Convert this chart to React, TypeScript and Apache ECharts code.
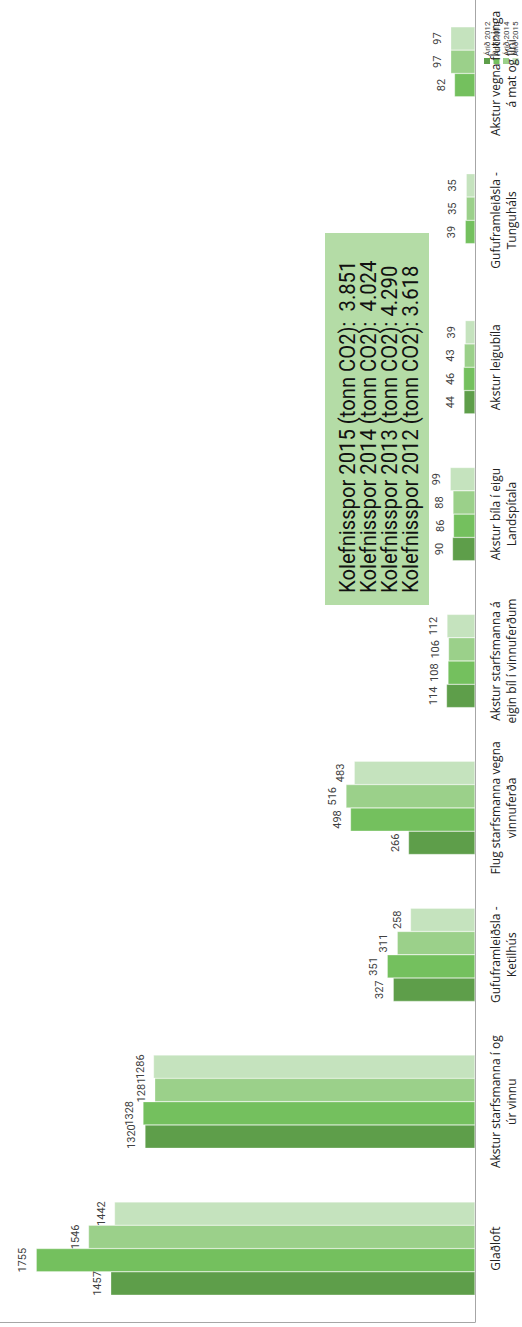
import React, { useEffect, useRef } from 'react';
import * as echarts from 'echarts';

const categories = [
  'Glaðloft',
  'Akstur starfsmanna í og\núr vinnu',
  'Gufuframleiðsla -\nKetilhús',
  'Flug starfsmanna vegna\nvinnuferða',
  'Akstur starfsmanna á\neigin bíl í vinnuferðum',
  'Akstur bíla í eigu\nLandspítala',
  'Akstur leigubíla',
  'Gufuframleiðsla -\nTunguháls',
  'Akstur vegna flutninga\ná mat og líni',
];
const seriesNames = ['Árið 2012', 'Árið 2013', 'Árið 2014', 'Árið 2015'];
const v2012 = [1457, 1320, 327, 266, 114, 90, 44, null, null];
const v2013 = [1755, 1328, 351, 498, 108, 86, 46, 39, 82];
const v2014 = [1546, 1281, 311, 516, 106, 88, 43, 35, 97];
const v2015 = [1442, 1286, 258, 483, 112, 99, 39, 35, 97];
const colors = ['#5e9e4a', '#74c05e', '#9bd08a', '#c5e3be'];
const boxLines = [
  'Kolefnisspor 2015 (tonn CO2):  3.851',
  'Kolefnisspor 2014 (tonn CO2):  4.024',
  'Kolefnisspor 2013 (tonn CO2): 4.290',
  'Kolefnisspor 2012 (tonn CO2): 3.618',
];

export default function App() {
  const ref = useRef<HTMLDivElement>(null);
  useEffect(() => {
    if (!ref.current) return;
    const chart = echarts.init(ref.current, undefined, { renderer: 'svg' });
    const all = [v2012, v2013, v2014, v2015];
    // ECharts places horizontal-bar series from the top, so add them last-to-first
    const order = [3, 2, 1, 0];
    const series = order.map((i) => ({
      name: seriesNames[i],
      type: 'bar',
      data: all[i],
      barWidth: 23.3,
      barGap: '0%',
      itemStyle: { color: colors[i], borderColor: 'rgba(255,255,255,0.6)', borderWidth: 0.5 },
      label: {
        show: true,
        position: 'left',
        distance: 8,
        rotate: 90,
        align: 'center',
        verticalAlign: 'bottom',
        fontSize: 11,
        fontFamily: 'Roboto, sans-serif',
        color: '#404040',
      },
    }));
    const legendChildren: any[] = [];
    seriesNames.forEach((n, i) => {
      legendChildren.push({
        type: 'rect',
        shape: { x: 0, y: i * 9.5 + 1, width: 6, height: 6 },
        style: { fill: colors[i] },
      });
      legendChildren.push({
        type: 'text',
        x: 8,
        y: i * 9.5 + 4,
        style: { text: n, fontSize: 8, fontFamily: 'Roboto, sans-serif', fill: '#404040', verticalAlign: 'middle' },
      });
    });
    const boxChildren: any[] = [
      { type: 'rect', shape: { x: 0, y: 0, width: 372, height: 104 }, style: { fill: '#b4dca6' } },
    ];
    boxLines.forEach((t, i) => {
      boxChildren.push({
        type: 'text',
        x: 12,
        y: 22 + i * 21,
        scaleX: 0.92,
        style: { text: t, fontSize: 22, fontFamily: 'Roboto, sans-serif', fill: '#111', verticalAlign: 'middle' },
      });
    });
    chart.setOption({
      animation: false,
      grid: { left: 0, right: 47, top: -7, bottom: 5 },
      xAxis: {
        type: 'value',
        inverse: true,
        min: 0,
        max: 1900,
        axisLine: { show: true, lineStyle: { color: '#a6a6a6', width: 1 } },
        axisLabel: { show: false },
        axisTick: { show: false },
        splitLine: { show: false },
      },
      yAxis: {
        type: 'category',
        data: categories,
        position: 'right',
        axisLine: { show: true, lineStyle: { color: '#a6a6a6', width: 1 } },
        axisTick: { show: false },
        axisLabel: {
          rotate: 90,
          margin: 12,
          fontSize: 12,
          lineHeight: 16,
          fontFamily: "'Open Sans', sans-serif",
          color: '#222',
          interval: 0,
        },
      },
      series,
      graphic: [
        { type: 'group', x: 483, y: 64, rotation: Math.PI / 2, children: legendChildren },
        { type: 'group', x: 325, y: 605, rotation: Math.PI / 2, children: boxChildren },
      ],
    });
    return () => chart.dispose();
  }, []);
  return <div ref={ref} style={{ position: 'absolute', left: 0, top: 0, width: 522, height: 1327 }} />;
}
